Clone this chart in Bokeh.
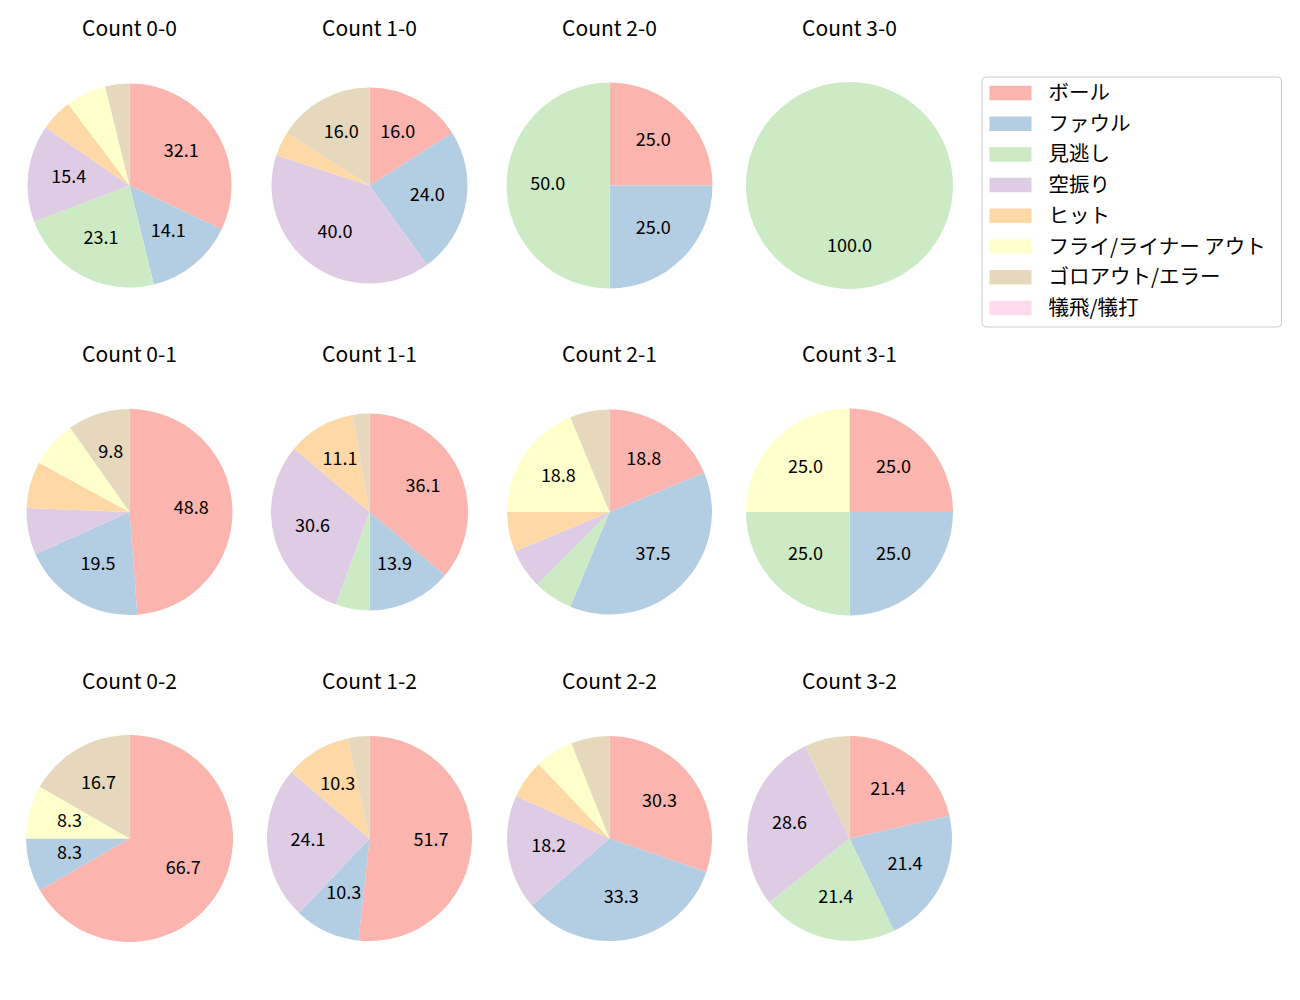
import math
from bokeh.plotting import figure
from bokeh.models import Range1d, ColumnDataSource
from bokeh.core.properties import value
from bokeh.embed import file_html
from bokeh.resources import INLINE

# ---------------- data ----------------
categories = ["ボール", "ファウル", "見逃し", "空振り", "ヒット",
              "フライ/ライナー アウト", "ゴロアウト/エラー", "犠飛/犠打"]
colors = ["#fbb4ae", "#b3cde3", "#ccebc5", "#decbe4", "#fed9a6",
          "#ffffcc", "#e5d8bd", "#fddaec"]

count_titles = ["Count 0-0", "Count 1-0", "Count 2-0", "Count 3-0",
                "Count 0-1", "Count 1-1", "Count 2-1", "Count 3-1",
                "Count 0-2", "Count 1-2", "Count 2-2", "Count 3-2"]

ball      = [25, 4, 1, 0, 20, 13, 3, 1, 8, 15, 10, 3]
foul      = [11, 6, 1, 0, 8, 5, 6, 1, 1, 3, 11, 3]
looking   = [18, 0, 2, 1, 0, 2, 1, 1, 0, 0, 0, 3]
swinging  = [12, 10, 0, 0, 3, 11, 1, 0, 0, 7, 6, 4]
hit       = [4, 1, 0, 0, 3, 4, 1, 0, 0, 3, 2, 0]
flyout    = [5, 0, 0, 0, 3, 0, 3, 1, 1, 0, 2, 0]
groundout = [3, 4, 0, 0, 4, 1, 1, 0, 2, 1, 2, 1]
sacrifice = [0, 0, 0, 0, 0, 0, 0, 0, 0, 0, 0, 0]

series = [ball, foul, looking, swinging, hit, flyout, groundout, sacrifice]

# ---------------- layout ----------------
W, H = 1300, 1000
FONT = "Noto Sans CJK JP"
col_x0, col_dx = 129.0, 240.0
row_y0, row_dy = 185.0, 326.5
pie_r = [102, 98, 103, 103.5, 103, 98.5, 102.5, 103.5, 103.5, 102.5, 102.5, 102.5]
label_min_pct = 7.5

def fy(ypx):
    return H - ypx

p = figure(width=W, height=H, x_range=Range1d(0, W), y_range=Range1d(0, H),
           x_axis_type=None, y_axis_type=None, toolbar_location=None,
           output_backend="svg", min_border=0, outline_line_color=None,
           background_fill_color="white", border_fill_color="white")
p.xgrid.visible = False
p.ygrid.visible = False

n = len(count_titles)
totals = [sum(s[i] for s in series) for i in range(n)]
centers = [(col_x0 + col_dx * (i % 4), row_y0 + row_dy * (i // 4)) for i in range(n)]

# wedges: one renderer per category
cum = [0.0] * n
lab_x, lab_y, lab_t = [], [], []
wedge_data = {k: dict(x=[], y=[], r=[], s=[], e=[]) for k in range(len(categories))}
for k, s in enumerate(series):
    for i in range(n):
        frac = s[i] / totals[i]
        a0 = math.pi / 2 - cum[i] * 2 * math.pi
        a1 = math.pi / 2 - (cum[i] + frac) * 2 * math.pi
        if frac >= 0.999999:
            a1 += 1e-4  # keep a full pie from collapsing to an empty arc
        cx, cy = centers[i]
        if s[i] > 0:
            d = wedge_data[k]
            d["x"].append(cx); d["y"].append(fy(cy)); d["r"].append(pie_r[i])
            d["s"].append(a1); d["e"].append(a0)
            pct = frac * 100
            if pct >= label_min_pct:
                am = (a0 + a1) / 2
                lab_x.append(cx + 0.6 * pie_r[i] * math.cos(am))
                lab_y.append(fy(cy) + 0.6 * pie_r[i] * math.sin(am))
                lab_t.append(f"{pct:.1f}")
        cum[i] += frac

for k in range(len(categories)):
    src = ColumnDataSource(wedge_data[k])
    p.wedge(x="x", y="y", radius="r", start_angle="s", end_angle="e",
            fill_color=colors[k], line_color=None, source=src)

# pie labels
p.text(x=lab_x, y=[v + 2.5 for v in lab_y], text=lab_t, text_align="center",
       text_baseline="middle", text_font=value(FONT), text_font_size=value("18px"),
       text_color="black")

# titles
p.text(x=[c[0] for c in centers], y=[fy(c[1] - 159) for c in centers],
       text=count_titles, text_align="center", text_baseline="middle",
       text_font=value(FONT), text_font_size=value("21px"), text_color="black")

# legend (drawn manually)
leg_left, leg_right, leg_top, leg_bottom = 981.5, 1281.0, 76.5, 326.5
p.quad(left=[leg_left], right=[leg_right], top=[fy(leg_top)], bottom=[fy(leg_bottom)],
       fill_color="white", fill_alpha=0.8, line_color="#cccccc", line_width=1,
       border_radius=4)
row_y = [92.5 + 30.7 * k for k in range(len(categories))]
p.rect(x=[1010] * len(categories), y=[fy(v) for v in row_y], width=42, height=14.5,
       fill_color=colors, line_color=None)
p.text(x=[1048] * len(categories), y=[fy(v - 2) for v in row_y], text=categories,
       text_align="left", text_baseline="middle", text_font=value(FONT),
       text_font_size=value("20.5px"), text_color="black")

open("out.html", "w").write(file_html(p, INLINE))
